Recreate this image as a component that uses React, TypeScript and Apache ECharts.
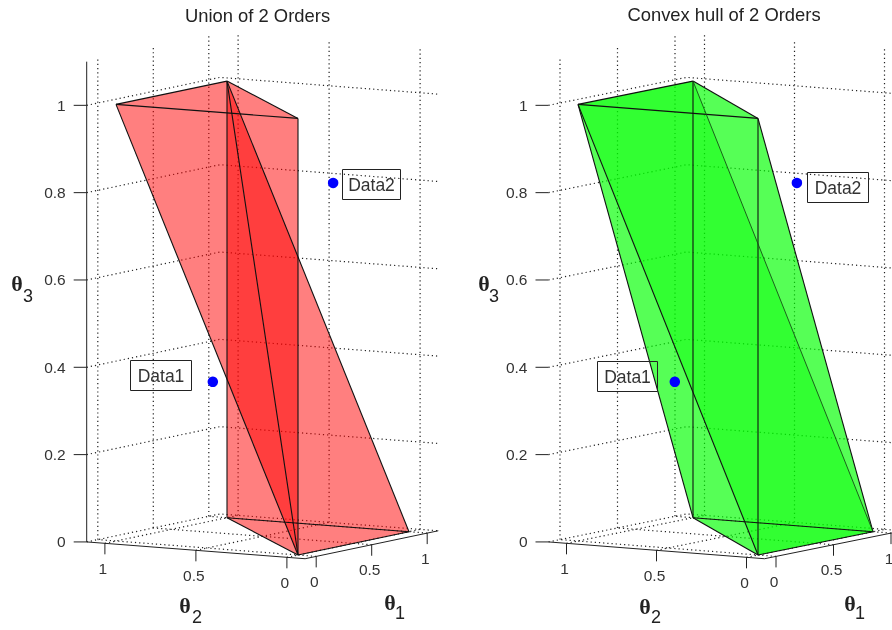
import React, { useEffect, useRef } from "react";
import * as echarts from "echarts";

type V3 = [number, number, number];

// ---- data: vertices of the orders in (theta1, theta2, theta3) ----
const O: V3 = [0, 0, 0];
const A: V3 = [1, 0, 0];
const B: V3 = [1, 1, 0];
const C: V3 = [1, 1, 1];
const D: V3 = [0, 0, 1];
const E: V3 = [0, 1, 1];

const unionFaces: V3[][] = [
  [O, A, B], [O, A, C], [O, B, C], [A, B, C],
  [O, D, E], [O, D, C], [O, E, C], [D, E, C],
];
const unionEdges: V3[][] = [
  [E, C], [C, D], [D, E], [O, A], [A, B], [B, O],
  [E, O], [D, O], [C, O], [C, B], [C, A],
];
const hullFaces: V3[][] = [
  [D, E, C], [O, A, B],
  [E, B, O], [E, O, D], [D, O, A], [D, A, C], [C, A, B], [C, B, E],
  [E, C, A, O],
];
const hullEdges: V3[][] = [
  [E, C], [C, D], [D, E], [O, A], [A, B], [B, O],
  [E, O], [D, O], [C, B], [E, B], [D, A],
];
const hullInnerEdges: V3[][] = [[C, A]];

const dataPoints: { name: string; p: V3 }[] = [
  { name: "Data1", p: [0.2, 0.59, 0.367] },
  { name: "Data2", p: [0.8, 0.295, 0.8] },
];

const thetaZTicks = [0, 0.2, 0.4, 0.6, 0.8, 1];
const thetaZLabels = ["0", "0.2", "0.4", "0.6", "0.8", "1"];
const floorTicks = [0, 0.5, 1];
const floorLabels = ["0", "0.5", "1"];
const titles = ["Union of 2 Orders", "Convex hull of 2 Orders"];

// ---- view ----
const LO = -0.1, HI = 1.1;
type Panel = {
  x0: number; ax: number; bx: number; faces: V3[][]; edges: V3[][]; innerEdges: V3[][]; fill: string;
  zAxis: boolean; labelBox: [number, number, number, number][];
  title: [number, number];
  names: [string, string, number, number, number, number][];
};
const panels: Panel[] = [
  {
    x0: 298, ax: 111, bx: 182, faces: unionFaces, edges: unionEdges, innerEdges: [],
    fill: "rgba(255,0,0,0.293)", zAxis: true,
    labelBox: [[130, 360, 61, 30], [342, 169, 58, 30]],
    title: [257.5, 15],
    names: [["θ", "3", 17, 283, 28, 296], ["θ", "2", 185, 605, 197, 617], ["θ", "1", 390, 602, 400, 613]],
  },
  {
    x0: 758, ax: 115, bx: 180, faces: hullFaces, edges: hullEdges, innerEdges: hullInnerEdges,
    fill: "rgba(0,255,0,0.42)", zAxis: false,
    labelBox: [[597, 361, 60, 30], [807, 172, 61, 30]],
    title: [724, 14],
    names: [["θ", "3", 484, 283, 494, 296], ["θ", "2", 645, 606, 656, 617], ["θ", "1", 850, 603, 860, 613]],
  },
];

const project = (pn: Panel, p: V3): [number, number] => [
  pn.x0 + pn.ax * p[0] - pn.bx * p[1],
  555 - 23.3 * p[0] - 14 * p[1] - 436.6 * p[2],
];

const INK = "#222";
const TEXT = "#333";
const SANS = "'Liberation Sans', Arial, sans-serif";

function gridSegments(): V3[][] {
  const out: V3[][] = [];
  for (const t of floorTicks) {
    out.push([[t, LO, 0], [t, HI, 0]]);
    out.push([[LO, t, 0], [HI, t, 0]]);
    out.push([[t, HI, 0], [t, HI, HI]]);
    out.push([[HI, t, 0], [HI, t, HI]]);
  }
  for (const z of thetaZTicks) {
    out.push([[LO, HI, z], [HI, HI, z], [HI, LO, z]]);
  }
  return out;
}

function lineSeries(pn: Panel, segs: V3[][], style: any, name: string) {
  return {
    type: "custom", name, coordinateSystem: "cartesian2d", silent: true, animation: false,
    data: segs.map((s) => project(pn, s[0])),
    renderItem: (params: any, api: any) => ({
      type: "polyline",
      shape: { points: segs[params.dataIndex].map((p) => api.coord(project(pn, p))) },
      style: { fill: "none", ...style },
    }),
  };
}

function faceSeries(pn: Panel) {
  return {
    type: "custom", name: "faces", coordinateSystem: "cartesian2d", silent: true, animation: false,
    data: pn.faces.map((f) => project(pn, f[0])),
    renderItem: (params: any, api: any) => ({
      type: "polygon",
      shape: { points: pn.faces[params.dataIndex].map((p) => api.coord(project(pn, p))) },
      style: { fill: pn.fill, stroke: "none" },
    }),
  };
}

function axisSeries(pn: Panel) {
  const ticks: { from: V3; dx: number; dy: number }[] = [];
  thetaZTicks.forEach((z) => ticks.push({ from: [LO, HI, z], dx: -13, dy: 0 }));
  floorTicks.forEach((t) => {
    ticks.push({ from: [LO, t, 0], dx: 0, dy: 11 });
    ticks.push({ from: [t, LO, 0], dx: 0, dy: 11 });
  });
  return {
    type: "custom", name: "ticks", coordinateSystem: "cartesian2d", silent: true, animation: false,
    data: ticks.map((t) => project(pn, t.from)),
    renderItem: (params: any, api: any) => {
      const t = ticks[params.dataIndex];
      const a = api.coord(project(pn, t.from));
      return {
        type: "line",
        shape: { x1: a[0], y1: a[1], x2: a[0] + t.dx, y2: a[1] + t.dy },
        style: { stroke: INK, lineWidth: 1 },
      };
    },
  };
}

function tickLabelSeries(pn: Panel) {
  const items: { at: V3; text: string; dx: number; dy: number; align: string }[] = [];
  thetaZTicks.forEach((z, i) =>
    items.push({ at: [LO, HI, z], text: thetaZLabels[i], dx: -21, dy: 0, align: "right" }));
  floorTicks.forEach((t, i) => {
    items.push({ at: [LO, t, 0], text: floorLabels[i], dx: -2, dy: 25, align: "center" });
    items.push({ at: [t, LO, 0], text: floorLabels[i], dx: -2, dy: 25, align: "center" });
  });
  return {
    type: "custom", name: "tick labels", coordinateSystem: "cartesian2d", silent: true, animation: false,
    data: items.map((t) => project(pn, t.at)),
    renderItem: (params: any, api: any) => {
      const t = items[params.dataIndex];
      const a = api.coord(project(pn, t.at));
      return {
        type: "text", x: a[0] + t.dx, y: a[1] + t.dy,
        style: { text: t.text, font: `15.5px ${SANS}`, fill: TEXT, align: t.align, verticalAlign: "middle" },
      };
    },
  };
}

function pointSeries(pn: Panel) {
  return {
    type: "scatter", name: "points", silent: true, animation: false, symbol: "circle", symbolSize: 10.5,
    itemStyle: { color: "#0000ff", opacity: 1 },
    data: dataPoints.map((d) => project(pn, d.p)),
  };
}

function graphics() {
  const out: any[] = [];
  panels.forEach((pn) => {
    pn.labelBox.forEach((b, i) => {
      out.push({
        type: "rect", z: 50, shape: { x: b[0] + 0.5, y: b[1] + 0.5, width: b[2], height: b[3] },
        style: { fill: "none", stroke: INK, lineWidth: 1 },
      });
      out.push({
        type: "text", z: 51, x: b[0] + b[2] / 2 + 0.5, y: b[1] + b[3] / 2 + 1,
        style: { text: dataPoints[i].name, font: `17.5px ${SANS}`, fill: TEXT, align: "center", verticalAlign: "middle" },
      });
    });
    pn.names.forEach((n) => {
      out.push({
        type: "text", z: 51, x: n[2], y: n[3],
        style: { text: n[0], font: `bold 22px 'Liberation Serif', serif`, fill: "#222", align: "center", verticalAlign: "middle" },
      });
      out.push({
        type: "text", z: 51, x: n[4], y: n[5],
        style: { text: n[1], font: `18px ${SANS}`, fill: "#222", align: "center", verticalAlign: "middle" },
      });
    });
  });
  return out;
}

export default function App() {
  const ref = useRef<HTMLDivElement>(null);
  useEffect(() => {
    const chart = echarts.init(ref.current!, undefined, { renderer: "svg" });
    const series: any[] = [];
    panels.forEach((pn) => {
      series.push(lineSeries(pn, gridSegments(), { stroke: INK, lineWidth: 1.2, lineDash: [1.2, 3] }, "grid"));
      series.push(faceSeries(pn));
      series.push(lineSeries(pn, pn.edges, { stroke: "#111", lineWidth: 1.1 }, "edges"));
      if (pn.innerEdges.length) {
        series.push(lineSeries(pn, pn.innerEdges, { stroke: "#154f15", lineWidth: 0.9 }, "inner edges"));
      }
      const axes: V3[][] = [[[LO, HI, 0], [LO, LO, 0], [HI, LO, 0]]];
      if (pn.zAxis) axes.push([[LO, HI, 0], [LO, HI, HI]]);
      series.push(lineSeries(pn, axes, { stroke: INK, lineWidth: 1 }, "axes"));
      series.push(axisSeries(pn));
      series.push(tickLabelSeries(pn));
      series.push(pointSeries(pn));
    });
    chart.setOption({
      animation: false,
      backgroundColor: "#fff",
      title: panels.map((pn, i) => ({
        text: titles[i],
        padding: 0,
        left: pn.title[0], top: pn.title[1], textAlign: "center", textVerticalAlign: "middle",
        textStyle: { fontFamily: "Liberation Sans", fontSize: 18.4, fontWeight: "normal", color: "#222" },
      })),
      grid: { left: 0, right: 0, top: 0, bottom: 0 },
      xAxis: { type: "value", min: 0, max: 892, show: false },
      yAxis: { type: "value", min: 0, max: 630, inverse: true, show: false },
      series,
      graphic: graphics(),
    });
    return () => chart.dispose();
  }, []);
  return <div ref={ref} style={{ position: "fixed", left: 0, top: 0, width: 892, height: 630, filter: "blur(0.45px)" }} />;
}
